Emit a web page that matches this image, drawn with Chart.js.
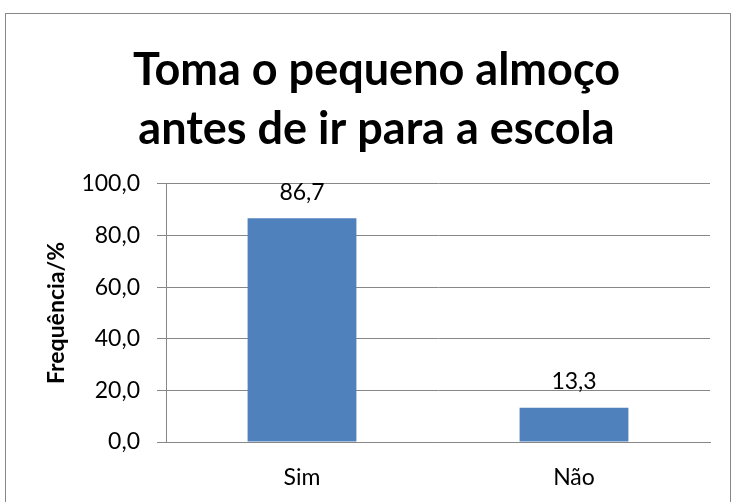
<!DOCTYPE html>
<html>
<head>
<meta charset="utf-8">
<script src="https://cdn.jsdelivr.net/npm/chart.js@4"></script>
<style>
  body { margin: 0; background: #fff; }
  #wrap { position: relative; width: 732px; height: 502px; overflow: hidden; }
  #frame { position: absolute; left: 5px; top: 13px; width: 726px; height: 500px; border: 1px solid #878787; box-sizing: border-box; }
  canvas { position: absolute; left: 0; top: 0; }
</style>
</head>
<body>
<div id="wrap">
  <div id="frame"></div>
  <canvas id="chart" width="732" height="502"></canvas>
</div>
<script>
const categories = ['Sim', 'Não'];
const frequencia = [86.7, 13.3];
const yTicks = [0, 20, 40, 60, 80, 100];
const titleLines = ['Toma o pequeno almoço', 'antes de ir para a escola'];
const yAxisTitle = 'Frequência/%';

const FONT = 'Lato, "Open Sans", sans-serif';
const fmt = v => v.toFixed(1).replace('.', ',');

// value labels above each bar
const valueLabels = {
    id: 'valueLabels',
    afterDatasetsDraw(chart) {
        const ctx = chart.ctx;
        const meta = chart.getDatasetMeta(0);
        ctx.save();
        ctx.font = '23px ' + FONT;
        ctx.fillStyle = '#000';
        ctx.textAlign = 'center';
        ctx.textBaseline = 'middle';
        meta.data.forEach((bar, i) => {
            ctx.fillText(fmt(frequencia[i]), bar.x, bar.y - 26);
        });
        ctx.restore();
    }
};

new Chart(document.getElementById('chart').getContext('2d'), {
    type: 'bar',
    data: {
        labels: categories,
        datasets: [{
            data: frequencia,
            backgroundColor: '#4F81BD',
            borderWidth: 0,
            barPercentage: 0.8,
            categoryPercentage: 0.5
        }]
    },
    options: {
        responsive: false,
        animation: false,
        layout: { padding: { top: 40, left: 43, right: 22, bottom: 0 } },
        plugins: {
            legend: { display: false },
            tooltip: { enabled: false },
            title: {
                display: true,
                text: titleLines,
                color: '#000',
                font: { family: FONT, size: 45, weight: 'bold', lineHeight: 1.333 },
                padding: { top: 0, bottom: 24 }
            }
        },
        scales: {
            x: {
                grid: { display: false },
                border: { color: '#878787', width: 1 },
                ticks: { color: '#000', font: { family: FONT, size: 23 }, padding: 14 },
                afterFit(scale) { scale.height = 60; }
            },
            y: {
                min: 0,
                max: 100,
                afterBuildTicks(scale) { scale.ticks = yTicks.map(v => ({ value: v })); },
                grid: { color: '#878787', tickLength: 9, lineWidth: 1 },
                border: { color: '#878787', width: 1 },
                ticks: {
                    color: '#000',
                    font: { family: FONT, size: 23 },
                    padding: 17,
                    callback: v => fmt(v)
                },
                title: {
                    display: true,
                    text: yAxisTitle,
                    color: '#000',
                    font: { family: FONT, size: 23, weight: 'bold' },
                    padding: 0
                },
                afterFit(scale) { scale.width = 166 - 43; }
            }
        }
    },
    plugins: [valueLabels]
});
</script>
</body>
</html>
